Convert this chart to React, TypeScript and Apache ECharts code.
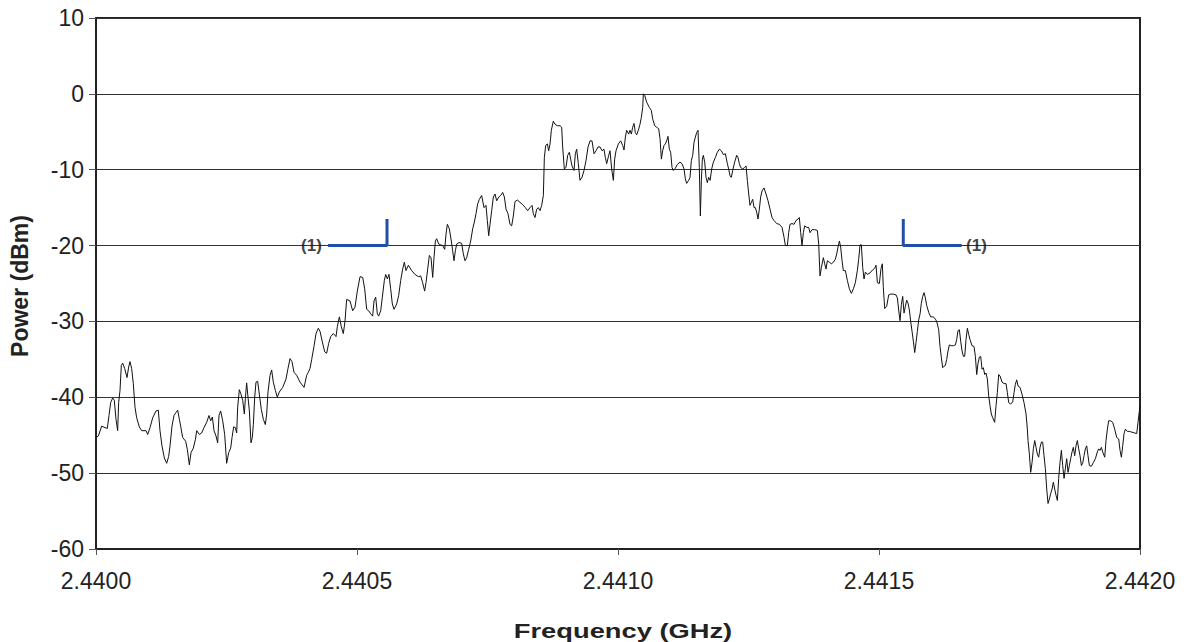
import React, { useEffect, useRef } from "react";
import * as echarts from "echarts";

// Frequency offsets are in kHz above START_GHZ; power in dBm.
const START_GHZ = 2.44;
const xTickStepKHz = 500;
const yTicks = [-60, -50, -40, -30, -20, -10, 0, 10];

const spectrum: [number, number][] = [
  [0, -45.3], [4.5, -45.1], [10.9, -43.8], [17.2, -44], [21.7, -44.1], [24.9, -42.4], [28.1, -40.7], [31.9, -40.1], [35.1, -40.4], [38.3, -42.9], [41.5, -44.4], [43.4, -40.7], [46, -39.1], [48.5, -35.8], [51.1, -35.5], [54.9, -36.2], [59.4, -37.4], [62.6, -36], [65.1, -35.3], [68.3, -36.2], [71.5, -38.2], [74.7, -41.3], [77.9, -42.7], [83, -43.9], [87.5, -44.4], [95.8, -44.4], [99, -44.9], [103.5, -44], [108.6, -42.7], [115, -41.8], [119.4, -41.7], [122.6, -44.4], [126.4, -46.4], [130.9, -48], [135.4, -48.7], [139.2, -47.8], [141.8, -46.4], [145.6, -43.8], [149.4, -42.4], [153.3, -42], [156.5, -41.7], [159.7, -42.9], [162.2, -43.8], [166, -45.3], [171.8, -45.8], [175, -46.9], [178.8, -48.9], [182, -47.3], [186.5, -46.7], [190.3, -45.6], [192.9, -44.4], [198, -44.9], [202.4, -44.7], [206.9, -44], [212, -43.3], [216.5, -42.4], [219.7, -43.1], [222.9, -42.6], [226.1, -44.4], [229.9, -45.1], [233.1, -46], [235.6, -42.4], [238.8, -41.8], [242.7, -43.1], [246.5, -44.9], [250.3, -48.7], [254.2, -47.3], [258, -46.7], [260.6, -45.3], [263.7, -43.9], [266.9, -44], [269.5, -44.7], [271.4, -41.3], [274.6, -39], [277.8, -39.6], [281, -40.4], [284.2, -42.2], [286.1, -40.2], [288.6, -38.1], [291.2, -40], [293.8, -41.8], [296.9, -46], [299.5, -45.3], [301.4, -43.6], [304, -40], [306.5, -38], [309.7, -37.9], [312.9, -39.6], [316.7, -41.6], [320.6, -42.9], [324.4, -43.6], [327, -42.2], [329.5, -39.3], [333.4, -37.1], [336.5, -36.4], [339.7, -38], [343.6, -39.1], [347.4, -40], [351.2, -39.3], [357.6, -38.7], [364, -37.6], [367.8, -36.2], [371.7, -34.9], [375.5, -35.3], [379.3, -36.7], [384.4, -37.1], [390.8, -38], [398.5, -38.7], [403.6, -37.1], [406.8, -36.7], [410, -36.2], [413.2, -35], [417.6, -33.3], [421.5, -31.6], [425.9, -30.9], [429.1, -31.3], [433.6, -32.7], [438.1, -34], [441.9, -34.2], [445.7, -32.9], [449.6, -32], [454.7, -31.6], [459.8, -32], [462.3, -30.7], [466.2, -29.4], [470, -30.7], [473.8, -31.6], [477, -30], [480.2, -27.1],
  [486.6, -27.3], [491.7, -28.6], [496.2, -28.1], [500.6, -26], [505.8, -24.1], [510.9, -24.2], [514.7, -25.7], [518.5, -28.4], [522.4, -28.6], [526.2, -29], [530, -29.3], [532.6, -27.3], [535.8, -26.8], [539, -29], [541.5, -29.3], [545.4, -28.6], [548.5, -26.8], [552.4, -24.6], [554.9, -23.8], [558.1, -24.4], [561.3, -23.8], [564.5, -25.7], [567.7, -27.7], [570.9, -28.4], [576, -27.7], [579.8, -26.6], [583.7, -24.6], [587.5, -23.1], [590.7, -22.2], [593.9, -23.3], [598.4, -22.6], [604.7, -23.3], [611.1, -23.8], [617.5, -24.1], [622, -24], [625.8, -24.9], [629.6, -26], [632.2, -24.9], [635.4, -23.1], [638.6, -21.3], [641.8, -21.6], [645, -24.2], [647.5, -21.6], [650.1, -19.4], [652.6, -19.1], [656.5, -19.8], [660.3, -19.9], [664.1, -20], [668, -20.5], [670.5, -18.5], [673.1, -17.2], [676.9, -17.8], [680.7, -19.4], [683.3, -20.7], [685.8, -22], [688.4, -20.7], [691, -19.8], [695.4, -19.6], [700.5, -19.7], [703.7, -21.1], [706.9, -22], [710.1, -21.6], [713.9, -20.5], [717.8, -19.4], [721.6, -17.8], [724.8, -16.9], [728, -15.8], [731.2, -14.5], [734.4, -13.9], [738.8, -13.4], [743.3, -15], [747.1, -14.7], [749.7, -16.7], [752.3, -18.7], [754.8, -17.2], [758, -15.4], [761.2, -13.6], [764.4, -13.2], [767.6, -14.1], [771.4, -13.6], [775.2, -13.4], [779.1, -13], [782.3, -13.6], [785.5, -15.2], [789.3, -15.8], [793.1, -17.2], [796.3, -17.4], [799.5, -16.1], [802.7, -14.2], [807.2, -14], [812.3, -14.3], [817.4, -14.6], [822.5, -15], [827, -15.4], [831.4, -15], [835.3, -14.7], [837.8, -15.8], [841, -16.3], [844.2, -15.2], [847.4, -15], [850.6, -15.4], [853.8, -14.7], [857, -13.4], [858.9, -8.4], [861.5, -6.8], [864.7, -6.6], [867.2, -7.5], [869.8, -6.6], [872.3, -4.8], [876.1, -3.6], [879.3, -4], [883.8, -4.2], [888.9, -4.2], [892.1, -4.4], [894, -7], [897.2, -9.9], [900.4, -9.7], [903.6, -8.1], [906.8, -7.7], [909.3, -8.6], [911.9, -9.5], [915.7, -10.1], [918.3, -7.9], [920.8, -7.3], [924, -9.2], [927.2, -11.4], [931.1, -11], [934.9, -10.1], [938.7, -8.8], [942.6, -7], [946.4, -6.2], [950.2, -6.2], [954.1, -7.9], [957.9, -7.5], [961.7, -7], [965.6, -7], [969.4, -7.5], [973.2, -7.3], [975.8, -8.4], [978.3, -9.2], [982.2, -8.1],
  [984.7, -7.5], [987.9, -9.9], [991.1, -11.4], [993.6, -8.6], [996.2, -7.5], [1000.7, -6.6], [1005.1, -6.2], [1009, -6.8], [1011.5, -7.4], [1014.1, -5.7], [1016.6, -4.8], [1020.5, -5.3], [1023, -4.8], [1025.6, -5.3], [1028.1, -4.4], [1030.7, -3.9], [1033.2, -5.1], [1035.8, -5.4], [1039, -4.8], [1042.2, -4], [1044.7, -3.1], [1047.3, -1.8], [1048.6, 0], [1051.1, -0.2], [1054.9, -1.1], [1060.1, -1.8], [1063.9, -2.2], [1066.4, -3.3], [1070.3, -4.2], [1074.1, -4.4], [1078, -4.6], [1080.5, -5.9], [1083.1, -8.6], [1085.6, -7.5], [1088.2, -6.8], [1090.7, -6.6], [1093.3, -6.2], [1095.8, -5.6], [1098.4, -7.3], [1100.9, -7.7], [1103.5, -9.7], [1106, -10.1], [1109.9, -9.8], [1113.7, -9.3], [1118.8, -9], [1122.6, -9.2], [1126.5, -9.9], [1129, -11.2], [1131.6, -11.8], [1135.4, -11.4], [1138, -11], [1140.5, -8.8], [1143.1, -8.1], [1145.6, -6.4], [1148.2, -5.7], [1150.7, -5.1], [1153.3, -4.8], [1155.8, -9.7], [1157.8, -16.1], [1159.7, -11.4], [1161.6, -8.6], [1163.5, -8.1], [1166.1, -9], [1168.6, -11], [1171.2, -11.7], [1173.7, -11], [1176.5, -11.4], [1179.5, -9.9], [1182.7, -9], [1186.5, -8.4], [1190.3, -7.7], [1194.2, -7.3], [1198, -7.5], [1201.8, -8], [1205.7, -7.9], [1209.5, -9.2], [1212, -9.9], [1214.6, -10.8], [1217.1, -11], [1219.7, -10.1], [1223.5, -9], [1227.4, -8.1], [1229.9, -8.4], [1232.5, -9.2], [1235, -9.7], [1238.9, -9.9], [1242.7, -9.7], [1245.3, -9.5], [1247.8, -11.4], [1250.4, -13.2], [1252.9, -14.7], [1255.5, -14.3], [1258, -13.9], [1260.6, -15], [1263.1, -15], [1265.7, -15.6], [1268.2, -16.5], [1270.8, -15.2], [1273.3, -13.6], [1275.9, -12.8], [1279.7, -12.4], [1283.6, -13.2], [1287.4, -14.1], [1291.2, -15.2], [1295.1, -16.3], [1298.9, -16.7], [1304, -17.1], [1309.1, -17.2], [1314.2, -17.6], [1318.1, -18.9], [1320.6, -20], [1324.4, -20], [1327, -18.3], [1329.5, -17.2], [1333.4, -17.1], [1337.2, -17.2], [1341, -16.7], [1344.9, -16.5], [1347.4, -16.3], [1350, -18.3], [1352.5, -20], [1355.1, -18.3], [1357.6, -17.4], [1361.5, -17.6], [1365.3, -17.6], [1367.9, -18.3], [1371.7, -17.9], [1376.8, -17.9], [1381.9, -18], [1384.5, -19.8], [1387, -24], [1389.6, -22.9], [1393.4, -21.6], [1396, -22.4], [1398.5, -23.1], [1401.1, -22], [1404.9, -22.2], [1408.7, -22.4], [1412.6, -22.2], [1416.4, -21.8], [1419, -21.1], [1421.5, -20.2], [1424.1, -19.4], [1426.6, -20.2], [1429.2, -22], [1431.7, -23.3], [1435.6, -23.3], [1439.4, -24.6], [1443.2, -25.7], [1447.1, -26.3], [1450.9, -25.7], [1454.7, -24.9], [1458.5, -23.3], [1461.1, -21.8], [1463.7, -19.9], [1466.2, -19.9], [1468.8, -22.9], [1471.3, -24.4], [1473.9, -23.5], [1477.7, -23.8],
  [1482.8, -23.6], [1487.9, -23.2], [1491.7, -23], [1494.3, -22.6], [1496.9, -24.9], [1500.7, -25], [1503.9, -23], [1506.4, -22.4], [1508.2, -25.4], [1510.9, -28.3], [1514.7, -28], [1518.6, -26.5], [1522.4, -26.4], [1527.5, -26.4], [1532.6, -26.5], [1535.2, -26.9], [1537.7, -28.5], [1540.3, -29.9], [1542.8, -27.8], [1545.4, -26.7], [1547.9, -28.9], [1550.5, -28], [1553, -27.2], [1555.6, -27.6], [1558.2, -28.5], [1560.7, -30], [1563.3, -31.3], [1565.8, -32.6], [1568.4, -34.1], [1570.9, -32.8], [1573.5, -31.3], [1576, -29.8], [1578.7, -29], [1581.1, -27.6], [1583.7, -26.7], [1586.3, -26.2], [1588.8, -26.9], [1591.4, -27.9], [1595.2, -28.8], [1599, -29.4], [1604.1, -29.4], [1608, -29.7], [1610.5, -30], [1614.4, -31.1], [1616.9, -33.3], [1619.5, -34.8], [1622, -36.1], [1624.6, -35.9], [1627.1, -35.8], [1629.7, -35], [1632.2, -33.9], [1634.8, -33.1], [1638.6, -33.2], [1642.5, -33.2], [1646.3, -33.1], [1648.8, -32.4], [1651.4, -31.2], [1654, -31.1], [1656.5, -32.6], [1659.1, -33.9], [1661.6, -34.6], [1664.2, -34.6], [1666.7, -32.4], [1669.3, -30.9], [1671.8, -31.7], [1674.4, -32.4], [1678.2, -33.2], [1682, -33.3], [1684.6, -34.6], [1687.2, -37], [1689.7, -35.5], [1692.3, -34.7], [1694.8, -34.6], [1697.4, -36.3], [1699.9, -36.1], [1702.5, -37], [1705, -36.8], [1707.6, -37.6], [1710.1, -39.8], [1712.7, -41.1], [1715.2, -42.2], [1717.8, -42.7], [1721.6, -43.3], [1724.2, -41.1], [1726.7, -39.4], [1729.3, -37], [1731.9, -37.2], [1735.7, -38], [1739.5, -38.2], [1743.4, -38.2], [1745.9, -39.4], [1748.5, -40.7], [1752.3, -40.9], [1756.1, -40.6], [1758.7, -39.4], [1761.2, -38.3], [1763.8, -37.7], [1766.3, -38.5], [1770.2, -38.7], [1774, -39.6], [1777.8, -40.7], [1781.7, -42.2], [1784.2, -44.2], [1785.5, -45.7], [1788.1, -47.5], [1790.6, -49.9], [1793.2, -48.6], [1795.7, -46.8], [1798.3, -45.7], [1800.8, -46.6], [1803.4, -47.5], [1805.9, -47.9], [1808.5, -46.6], [1811.2, -45.9], [1813.6, -45.9], [1816.1, -47.7], [1818.7, -49.4], [1821.3, -52.1], [1823.8, -54], [1826.4, -53.4], [1828.9, -52.7], [1831.5, -52.1], [1834, -51.2], [1836.6, -52.1], [1839.1, -52.9], [1841.7, -53.6], [1844.2, -50.7], [1846.8, -48.6], [1849.4, -47], [1851.9, -49], [1854.5, -50.7], [1857, -49.4], [1859.6, -48.1], [1862.1, -49.9], [1864.7, -49], [1867.2, -48.1], [1869.8, -47.2], [1872.3, -46.6], [1874.9, -47.7], [1877.4, -46.4], [1880, -45.7], [1882.6, -46.8], [1885.1, -47.7], [1887.7, -49], [1890.2, -48.7], [1892.8, -47.7], [1895.3, -46.8], [1897.9, -46.4], [1900.4, -47.7], [1903, -49], [1906.8, -49.1], [1910.7, -48.6], [1914.5, -48.1], [1918.3, -47.2], [1920.9, -46.8], [1923.4, -47], [1926, -46.6], [1928.5, -47.2], [1932.4, -47.9], [1934.9, -45.7], [1937.5, -44.2], [1940, -43.1], [1943.9, -43.1], [1947.7, -43.3], [1951.5, -44.2], [1955.4, -45.3], [1959.2, -45.5], [1961.8, -47], [1964.3, -47.9], [1966.9, -46.4], [1969.4, -44.8], [1972, -44.2], [1975.8, -44.5], [1979.6, -44.5], [1984.7, -44.6], [1989.8, -44.7], [1993.7, -44.8], [1996.2, -43.3], [2000, -41.1],
];

// Occupied-bandwidth markers "(1)"
const leftMarker: [number, number][] = [[444.4, -20], [557.5, -20], [557.5, -16.5]];
const rightMarker: [number, number][] = [[1546.5, -16.5], [1546.5, -20], [1658.4, -20]];
const markerLabels: [number, number][] = [[412.8, -20], [1686.8, -20]];
const markerText = "(1)";

const xTitle = "Frequency (GHz)";
const yTitle = "Power (dBm)";

const FONT = "'Liberation Sans', Arial, Helvetica, sans-serif";
const MARK_BLUE = "#1f4fa6";

export default function App() {
  const ref = useRef<HTMLDivElement>(null);

  useEffect(() => {
    if (!ref.current) return;
    const chart = echarts.init(ref.current, undefined, { renderer: "svg" });
    chart.setOption({
      animation: false,
      backgroundColor: "#ffffff",
      textStyle: { fontFamily: FONT },
      grid: {
        left: 96,
        right: 46,
        top: 18,
        bottom: 93,
        show: true,
        borderColor: "#222",
        borderWidth: 2,
        backgroundColor: "transparent",
      },
      xAxis: {
        type: "value",
        min: 0,
        max: 2000,
        interval: xTickStepKHz,
        axisLine: { show: true, onZero: false, lineStyle: { color: "#222", width: 2 } },
        axisTick: { show: true, length: 6, lineStyle: { color: "#555", width: 1 } },
        axisLabel: {
          color: "#222",
          fontSize: 23,
          fontFamily: FONT,
          margin: 20,
          formatter: (v: number) => (START_GHZ + v / 1e6).toFixed(4),
        },
        splitLine: { show: false },
      },
      yAxis: {
        type: "value",
        min: yTicks[0],
        max: yTicks[yTicks.length - 1],
        interval: 10,
        axisLine: { show: true, onZero: false, lineStyle: { color: "#222", width: 2 } },
        axisTick: { show: true, length: 7, lineStyle: { color: "#555", width: 1 } },
        axisLabel: {
          color: "#222",
          fontSize: 23,
          fontFamily: FONT,
          margin: 12,
        },
        splitLine: { show: true, lineStyle: { color: "#333", width: 1 } },
      },
      graphic: [
        {
          type: "text",
          x: 623,
          y: 631,
          scaleX: 1.3,
          style: {
            text: xTitle,
            fontSize: 21,
            fontWeight: "bold",
            fontFamily: FONT,
            fill: "#222",
            textAlign: "center",
            textVerticalAlign: "middle",
          },
        },
        {
          type: "text",
          x: 20,
          y: 286,
          rotation: Math.PI / 2,
          style: {
            text: yTitle,
            fontSize: 23,
            fontWeight: "bold",
            fontFamily: FONT,
            fill: "#222",
            textAlign: "center",
            textVerticalAlign: "middle",
          },
        },
      ],
      series: [
        {
          type: "line",
          data: spectrum,
          showSymbol: false,
          symbol: "none",
          lineStyle: { color: "#111", width: 1 },
          z: 3,
        },
        {
          type: "line",
          data: leftMarker,
          showSymbol: false,
          symbol: "none",
          lineStyle: { color: MARK_BLUE, width: 3 },
          z: 4,
        },
        {
          type: "line",
          data: rightMarker,
          showSymbol: false,
          symbol: "none",
          lineStyle: { color: MARK_BLUE, width: 3 },
          z: 4,
        },
        {
          type: "scatter",
          data: markerLabels,
          symbolSize: 0,
          z: 5,
          label: {
            show: true,
            position: "inside",
            formatter: () => markerText,
            fontSize: 17,
            fontWeight: "bold",
            fontFamily: FONT,
            color: "#111",
            textBorderWidth: 0,
          },
        },
      ],
    });
    return () => chart.dispose();
  }, []);

  return (
    <div
      ref={ref}
      style={{ position: "fixed", left: 0, top: 0, width: 1186, height: 642, background: "#fff" }}
    />
  );
}
